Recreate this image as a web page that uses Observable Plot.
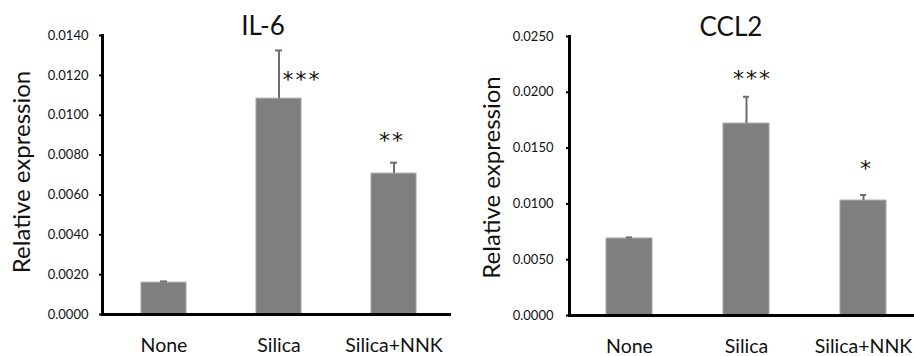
<!DOCTYPE html>
<html>
<head>
<meta charset="utf-8">
<script src="https://cdn.jsdelivr.net/npm/d3@7"></script>
<script src="https://cdn.jsdelivr.net/npm/@observablehq/plot@0.6"></script>
<style>
  html, body { margin: 0; padding: 0; background: #fff; }
  #wrap { display: flex; width: 914px; height: 356px; }
  svg { display: block; }
</style>
</head>
<body>
<div id="wrap"></div>
<script>
const categories = ["None", "Silica", "Silica+NNK"];

const il6Title = "IL-6";
const il6Values = [0.0016, 0.01083, 0.00707];
const il6Errors = [0.00006, 0.00242, 0.00055];
const il6Sig = ["", "***", "**"];
const il6SigY = [null, 0.0119, 0.00885];
const il6Ticks = [0, 0.002, 0.004, 0.006, 0.008, 0.010, 0.012, 0.014];

const ccl2Title = "CCL2";
const ccl2Values = [0.0069, 0.0172, 0.0103];
const ccl2Errors = [0.0001, 0.0024, 0.0005];
const ccl2Sig = ["", "***", "*"];
const ccl2SigY = [null, 0.0215, 0.0134];
const ccl2Ticks = [0, 0.005, 0.010, 0.015, 0.020, 0.025];

const yLabel = "Relative expression";
const FONT = "Lato, 'Open Sans', sans-serif";
const STAR_FONT = "'DejaVu Sans', sans-serif";

function makeChart(o) {
  const rows = categories.map((c, i) => ({
    cat: c, v: o.values[i], e: o.errors[i], top: o.values[i] + o.errors[i],
    sig: o.sig[i], sigY: o.sigY[i], idx: i
  }));
  const sigRows = rows.filter(d => d.sig);
  const starStyle = {x: "cat", y: "sigY", text: "sig", fontSize: 22, fontFamily: STAR_FONT, fill: "#111", lineAnchor: "middle", dy: 3};
  const svg = Plot.plot({
    width: 457,
    height: 356,
    marginLeft: o.ml, marginRight: o.mr, marginTop: o.mt, marginBottom: o.mb,
    style: {fontFamily: FONT, color: "#000", background: "#fff"},
    x: {domain: categories, paddingInner: o.pi, paddingOuter: o.po, align: o.align, label: null},
    y: {domain: [0, o.ticks[o.ticks.length - 1]], label: null},
    marks: [
      Plot.barY(rows, {x: "cat", y: "v", fill: "#7f7f7f", stroke: "#a6a6a6", strokeWidth: 1}),
      Plot.ruleX(rows, {x: "cat", y1: "v", y2: "top", stroke: "#6e6e6e", strokeWidth: 2}),
      Plot.tickY(rows, {x: "cat", y: "top", stroke: "#6e6e6e", strokeWidth: 2, insetLeft: o.cap, insetRight: o.cap}),
      Plot.text(sigRows.filter(d => d.idx === 1), {...starStyle, dx: o.sigDx1}),
      Plot.text(sigRows.filter(d => d.idx === 2), {...starStyle, dx: o.sigDx2}),
      Plot.axisY({ticks: o.ticks, tickFormat: d3.format(".4f"), tickSize: 3, tickPadding: o.tp, fontSize: 13, stroke: "#000", strokeWidth: 2, fill: "#111"}),
      Plot.axisX({tickSize: 0, tickPadding: 24, fontSize: 19.5, fill: "#111"}),
      Plot.frame({anchor: "left", stroke: "#000", strokeWidth: 3}),
      Plot.ruleY([0], {stroke: "#000", strokeWidth: 3, insetLeft: -1}),
      Plot.text([o.title], {frameAnchor: "top", textAnchor: "middle", dx: o.titleDx, dy: -9, fontSize: 26, fill: "#111", lineAnchor: "middle"}),
      Plot.text([yLabel], {frameAnchor: "left", textAnchor: "middle", dx: o.ylDx, dy: o.ylDy, rotate: -90, fontSize: 24, fill: "#111", lineAnchor: "middle"})
    ]
  });
  d3.select(svg).selectAll("text").filter(function() { return /^\*+$/.test(this.textContent); })
    .attr("letter-spacing", 2);
  return svg;
}

const wrap = document.getElementById("wrap");
wrap.appendChild(makeChart({
  title: il6Title, values: il6Values, errors: il6Errors, sig: il6Sig, sigY: il6SigY, ticks: il6Ticks,
  ml: 102, mr: 6, mt: 35, mb: 42, pi: 0.61, po: 0.313, align: 0.53, cap: 19, tp: 11,
  sigDx1: 23, sigDx2: -2, titleDx: -14, ylDx: -80, ylDy: -3
}));
wrap.appendChild(makeChart({
  title: ccl2Title, values: ccl2Values, errors: ccl2Errors, sig: ccl2Sig, sigY: ccl2SigY, ticks: ccl2Ticks,
  ml: 112, mr: 0, mt: 36, mb: 41, pi: 0.603, po: 0.273, align: 0.58, cap: 20, tp: 13,
  sigDx1: 6, sigDx2: 3, titleDx: -11, ylDx: -77, ylDy: 1.5
}));
</script>
</body>
</html>
